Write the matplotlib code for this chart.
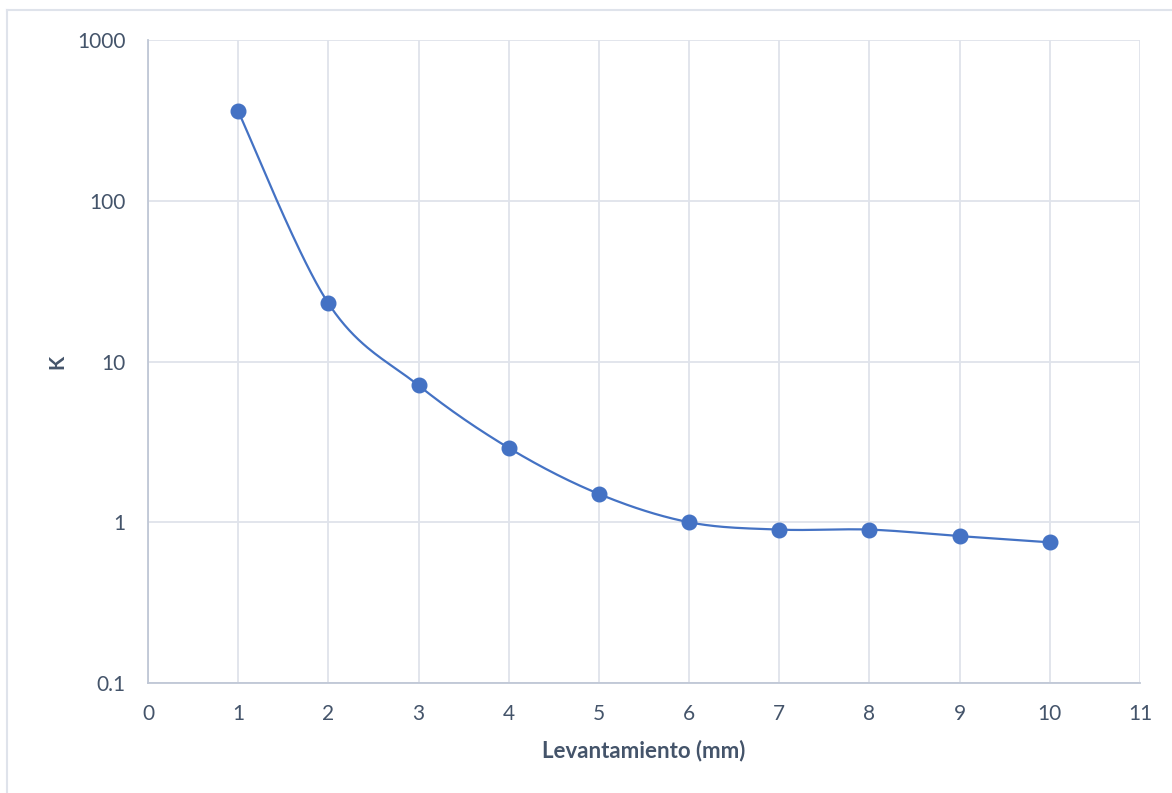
import numpy as np
import matplotlib
matplotlib.use("Agg")
import matplotlib.pyplot as plt
from matplotlib.lines import Line2D

# Measured coefficient K against lift height
levantamiento_mm = [1, 2, 3, 4, 5, 6, 7, 8, 9, 10]
k_values = [360, 23, 7.1, 2.9, 1.5, 1.0, 0.9, 0.9, 0.82, 0.75]

x_ticks = list(range(0, 12))
y_ticks = [0.1, 1, 10, 100, 1000]
y_tick_labels = ["0.1", "1", "10", "100", "1000"]

plt.rcParams["font.family"] = ["Lato", "DejaVu Sans"]

TEXT = "#44546A"
GRID = "#DFE3EB"
SPINE = "#BFC7D5"
BLUE = "#4472C4"


def smooth_curve(xs, ys, steps=40):
    """Catmull-Rom style Bezier smoothing through every point."""
    pts = np.column_stack([xs, ys]).astype(float)
    n = len(pts)
    out = [pts[0]]
    for i in range(n - 1):
        p0 = pts[i - 1] if i > 0 else pts[i]
        p1 = pts[i]
        p2 = pts[i + 1]
        p3 = pts[i + 2] if i + 2 < n else pts[i + 1]
        c1 = p1 + (p2 - p0) / 6.0
        c2 = p2 - (p3 - p1) / 6.0
        t = np.linspace(0, 1, steps)[1:, None]
        seg = ((1 - t) ** 3) * p1 + 3 * ((1 - t) ** 2) * t * c1 \
            + 3 * (1 - t) * t ** 2 * c2 + t ** 3 * p2
        out.extend(seg)
    out = np.array(out)
    return out[:, 0], out[:, 1]


fig = plt.figure(figsize=(11.72, 7.93), dpi=100)
ax = fig.add_axes([148 / 1172, 1 - 683 / 793, (1140 - 148) / 1172, (683 - 40) / 793])

# Outer chart frame (top and left edges visible)
fig.add_artist(Line2D([7 / 1172, 1.0], [1 - 10 / 793, 1 - 10 / 793],
                      transform=fig.transFigure, color=GRID, lw=1.5))
fig.add_artist(Line2D([7 / 1172, 7 / 1172], [0.0, 1 - 10 / 793],
                      transform=fig.transFigure, color=GRID, lw=1.5))

sx, sy = smooth_curve(levantamiento_mm, np.log10(k_values))
ax.plot(sx, 10 ** sy, color=BLUE, lw=1.6, zorder=3)
ax.plot(levantamiento_mm, k_values, linestyle="none", marker="o",
        markersize=10.5, markerfacecolor=BLUE, markeredgecolor=BLUE, zorder=4)

ax.set_yscale("log")
ax.set_xlim(0, 11)
ax.set_ylim(0.1, 1000)
ax.set_xticks(x_ticks)
ax.set_xticklabels([str(v) for v in x_ticks])
ax.set_yticks(y_ticks)
ax.set_yticklabels(y_tick_labels)
ax.yaxis.set_minor_locator(matplotlib.ticker.NullLocator())

ax.grid(True, color=GRID, lw=1.3, zorder=0)
ax.set_axisbelow(True)
for side in ("top", "right"):
    ax.spines[side].set_visible(False)
for side in ("left", "bottom"):
    ax.spines[side].set_color(SPINE)
    ax.spines[side].set_linewidth(1.3)

ax.tick_params(axis="both", length=0, labelsize=15, colors=TEXT)
ax.tick_params(axis="x", pad=15)
ax.tick_params(axis="y", pad=16)

ax.set_xlabel("Levantamiento (mm)", fontsize=16, fontweight="bold", color=TEXT)
ax.xaxis.set_label_coords(0.5, -57 / 643)
ax.set_ylabel("K", fontsize=15, fontweight="bold", color=TEXT)
ax.yaxis.set_label_coords(-81 / 992, 0.5)

fig.savefig("out.png", dpi=100, facecolor="white")
